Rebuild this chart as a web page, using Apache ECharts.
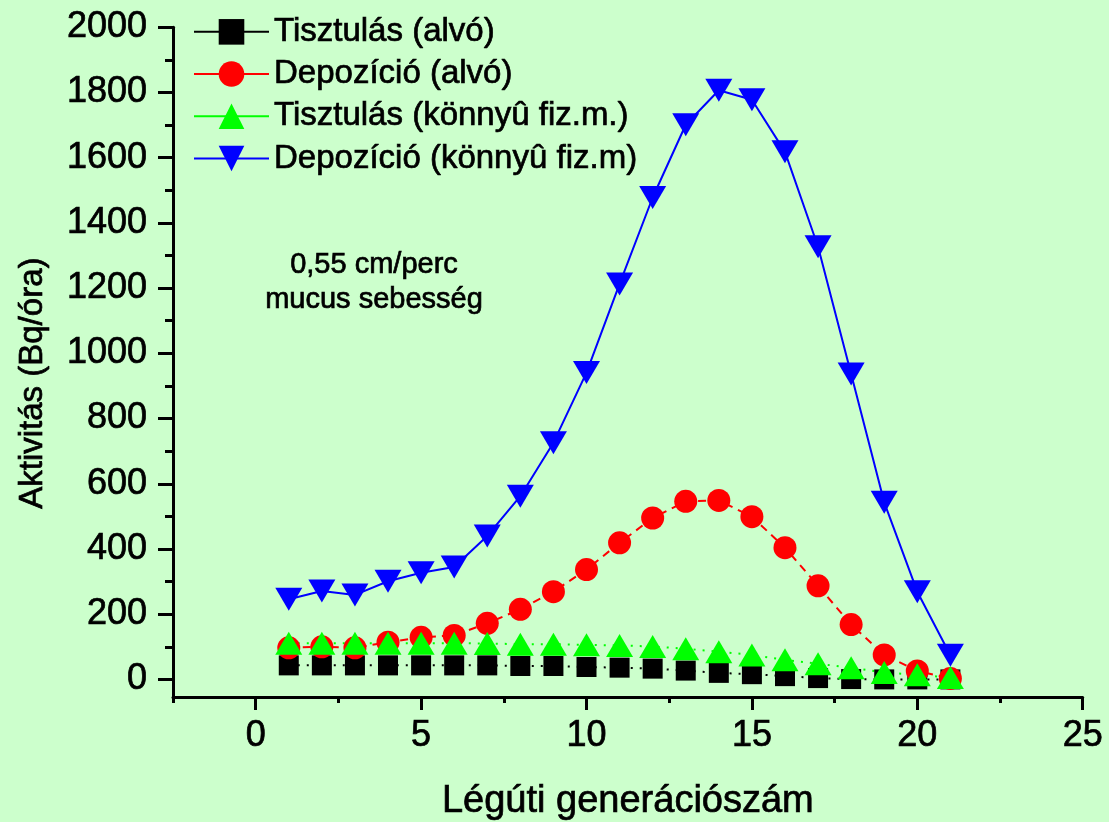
<!DOCTYPE html>
<html>
<head>
<meta charset="utf-8">
<script src="https://cdn.jsdelivr.net/npm/echarts@6/dist/echarts.min.js"></script>
<style>
html,body{margin:0;padding:0;background:#CCFFCC;}
#main{width:1109px;height:822px;}
</style>
</head>
<body>
<div id="main"></div>
<script>
// ---- data ----
const generations = [1,2,3,4,5,6,7,8,9,10,11,12,13,14,15,16,17,18,19,20,21];
const tisztulasAlvo   = [43,43,43,43,43,43,43,41,41,38,36,33,27,20,16,10,4,1,0,0,0];
const depozicioAlvo   = [97,100,97,114,129,135,172,215,269,337,419,495,546,549,499,404,287,168,75,26,3];
const tisztulasKonnyu = [111,111,111,111,111,111,110,108,108,106,104,101,94,85,75,60,48,36,21,14,6];
const depozicioKonnyu = [246,271,259,301,327,345,440,562,726,941,1213,1478,1701,1807,1778,1618,1327,937,543,269,74];
const seriesNames = ['Tisztulás (alvó)','Depozíció (alvó)','Tisztulás (könnyû fiz.m.)','Depozíció (könnyû fiz.m)'];
const xMajorTicks = [0,5,10,15,20,25];
const xMinorTicks = [-2.5,2.5,7.5,12.5,17.5,22.5];
const yMajorTicks = [0,200,400,600,800,1000,1200,1400,1600,1800,2000];
const yMinorTicks = [100,300,500,700,900,1100,1300,1500,1700,1900];
const xTitle = 'Légúti generációszám';
const yTitle = 'Aktivitás (Bq/óra)';
const noteText = '0,55 cm/perc\nmucus sebesség';

const FONT = '"Liberation Sans", Arial, Helvetica, sans-serif';
const pairs = arr => generations.map((g,i)=>[g, arr[i]]);
const heavy = {textBorderColor:'#000', textBorderWidth:0.7};

const chart = echarts.init(document.getElementById('main'), null, {renderer:'canvas'});
const axisLineStyle = {color:'#000', width:3};

const option = {
  backgroundColor:'#CCFFCC',
  animation:false,
  textStyle:{fontFamily:FONT},
  grid:{left:173, right:26.3, top:27.3, bottom:125, containLabel:false, outerBoundsMode:'none'},
  legend:{
    orient:'vertical', left:188, top:10, padding:5,
    itemWidth:75, itemHeight:32, itemGap:8.5,
    textStyle:Object.assign({fontSize:33, color:'#000', fontFamily:FONT}, heavy),
    lineStyle:{type:'solid', width:2},
    data:seriesNames
  },
  xAxis:[
    {type:'value', min:-2.5, max:25, position:'bottom',
     axisLine:{show:true, onZero:false, lineStyle:axisLineStyle},
     axisTick:{show:true, customValues:xMajorTicks, length:13, lineStyle:{color:'#000', width:3}},
     axisLabel:Object.assign({show:true, customValues:xMajorTicks, fontSize:36, color:'#000', margin:21, fontFamily:FONT,
                formatter:v=>String(v)}, heavy),
     splitLine:{show:false},
     name:xTitle, nameLocation:'middle', nameGap:86,
     nameTextStyle:Object.assign({fontSize:38, color:'#000', fontFamily:FONT}, heavy)},
    {type:'value', min:-2.5, max:25, position:'bottom',
     axisLine:{show:false, onZero:false},
     axisTick:{show:true, customValues:xMinorTicks, length:6, lineStyle:{color:'#000', width:3}},
     axisLabel:{show:false},
     splitLine:{show:false}}
  ],
  yAxis:[
    {type:'value', min:-54, max:2000, position:'left',
     axisLine:{show:true, onZero:false, lineStyle:axisLineStyle},
     axisTick:{show:true, customValues:yMajorTicks, length:15, lineStyle:{color:'#000', width:3}},
     axisLabel:Object.assign({show:true, customValues:yMajorTicks, fontSize:36, color:'#000', margin:26, fontFamily:FONT,
                formatter:v=>String(v)}, heavy),
     splitLine:{show:false},
     name:yTitle, nameLocation:'middle', nameRotate:90, nameGap:124,
     nameTextStyle:Object.assign({fontSize:33, color:'#000', fontFamily:FONT, padding:[0,42,0,0]}, heavy)},
    {type:'value', min:-54, max:2000, position:'left',
     axisLine:{show:false, onZero:false},
     axisTick:{show:true, customValues:yMinorTicks, length:8, lineStyle:{color:'#000', width:3}},
     axisLabel:{show:false},
     splitLine:{show:false}}
  ],
  graphic:[
    {type:'text', x:374, y:247,
     style:{text:noteText, textAlign:'center', textVerticalAlign:'top', fontSize:29, lineHeight:35, fill:'#000',
            fontFamily:FONT, stroke:'#000', lineWidth:0.7}}
  ],
  series:[
    {name:seriesNames[0], type:'line', data:pairs(tisztulasAlvo),
     symbol:'rect', symbolSize:20, itemStyle:{color:'#000'},
     lineStyle:{color:'#000', width:2, type:[2,7]}},
    {name:seriesNames[1], type:'line', data:pairs(depozicioAlvo),
     symbol:'circle', symbolSize:23, itemStyle:{color:'#FF0000'},
     lineStyle:{color:'#FF0000', width:2, type:[8,6]}},
    {name:seriesNames[2], type:'line', data:pairs(tisztulasKonnyu),
     symbol:'triangle', symbolSize:[27,23], itemStyle:{color:'#00FF00'},
     lineStyle:{color:'#00FF00', width:2, type:[2,7]}},
    {name:seriesNames[3], type:'line', data:pairs(depozicioKonnyu),
     symbol:'triangle', symbolSize:[27,23], symbolRotate:180, itemStyle:{color:'#0000FF'},
     lineStyle:{color:'#0000FF', width:2, type:'solid'}}
  ]
};
chart.setOption(option);
</script>
</body>
</html>
